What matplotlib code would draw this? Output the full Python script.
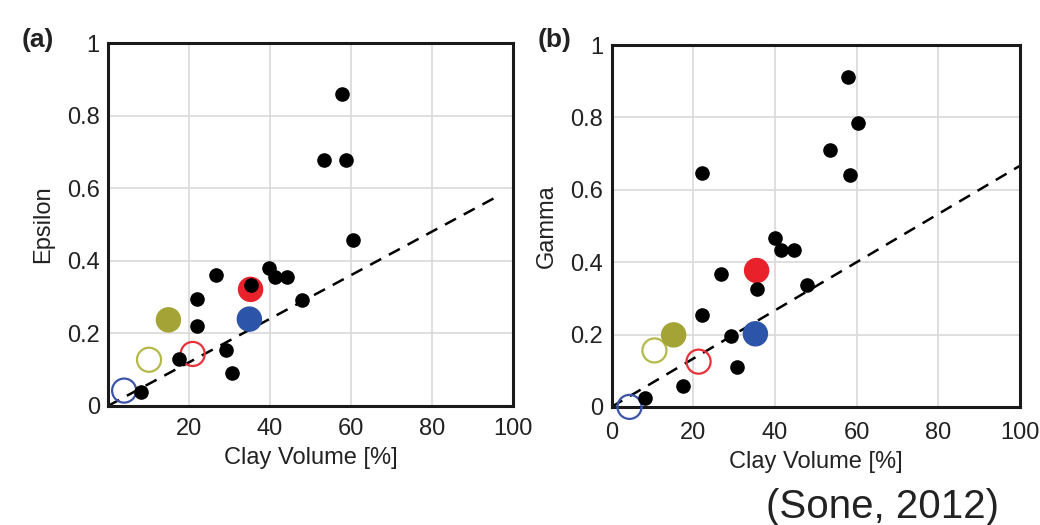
import matplotlib
matplotlib.use("Agg")
import matplotlib.pyplot as plt

plt.rcParams['font.family'] = ['Liberation Sans', 'DejaVu Sans']

######### DATA #########
# panel (a): black dots, clay volume [%] vs epsilon
eps_clay = [57.9, 53.4, 58.8, 60.6, 39.8, 41.2, 44.3, 26.6, 35.2, 21.9, 47.8, 21.9, 29.1, 30.7, 17.4, 8.1]
eps_val = [0.86, 0.678, 0.679, 0.457, 0.379, 0.354, 0.356, 0.360, 0.333, 0.294, 0.292, 0.221, 0.154, 0.090, 0.130, 0.038]
# panel (b): black dots, clay volume [%] vs gamma
gam_clay = [57.8, 60.4, 53.4, 58.3, 22.1, 40.0, 41.4, 44.6, 26.7, 35.5, 47.9, 22.1, 29.2, 30.8, 17.5, 8.3]
gam_val = [0.911, 0.784, 0.710, 0.641, 0.646, 0.466, 0.434, 0.434, 0.367, 0.326, 0.337, 0.254, 0.196, 0.109, 0.058, 0.024]

# highlighted samples: red, blue, olive (filled and open)
hl_colors = ['#e8212a', '#2c54a8', '#a3a435']
hl_open_colors = ['#e8323a', '#3d55a8', '#b5b84a']
eps_filled_clay = [35.2, 34.9, 14.9]
eps_filled_val = [0.321, 0.239, 0.237]
eps_open_clay = [20.9, 3.95, 10.1]
eps_open_val = [0.143, 0.042, 0.127]
gam_filled_clay = [35.5, 35.2, 15.2]
gam_filled_val = [0.377, 0.202, 0.199]
gam_open_clay = [21.3, 4.4, 10.5]
gam_open_val = [0.125, 0.0, 0.156]

# dashed trend lines (end points)
eps_trend_x = [0, 97]
eps_trend_y = [0, 0.582]
gam_trend_x = [0, 100]
gam_trend_y = [0, 0.667]


######### PLOTTING #########
def draw_panel(ax, clay, val, f_clay, f_val, o_clay, o_val, tx, ty, ylabel, xticks, xpad):
    ax.set_xlim(0, 100)
    ax.set_ylim(0, 1)
    ax.grid(True, color='#d9d9d9', linewidth=1.2)
    ax.set_axisbelow(True)
    ax.plot(tx, ty, color='black', linestyle=(0, (5, 3.5)), linewidth=1.8, zorder=2, clip_on=False)
    ax.scatter(o_clay, o_val, s=300, facecolors='none', edgecolors=hl_open_colors, linewidths=1.6, zorder=3, clip_on=False)
    ax.scatter(f_clay, f_val, s=300, color=hl_colors, zorder=3, clip_on=False)
    ax.scatter(clay, val, s=90, color='black', zorder=4, clip_on=False)
    ax.set_xticks(xticks)
    ax.set_xticklabels([str(t) for t in xticks])
    ax.set_yticks([0, 0.2, 0.4, 0.6, 0.8, 1])
    ax.set_yticklabels(['0', '0.2', '0.4', '0.6', '0.8', '1'])
    ax.tick_params(length=0, labelsize=17, colors='#222222')
    ax.tick_params(axis='x', pad=xpad)
    ax.tick_params(axis='y', pad=6)
    for sp in ax.spines.values():
        sp.set_linewidth(2.2)
        sp.set_color('#1a1a1a')
    ax.set_xlabel('Clay Volume [%]', fontsize=17, color='#222222', labelpad=5)
    ax.set_ylabel(ylabel, fontsize=17, color='#222222', labelpad=9)


fig = plt.figure(figsize=(10.4, 5.25), dpi=100)
ax1 = fig.add_axes([0.104, 0.227, 0.389, 0.691])
ax2 = fig.add_axes([0.588, 0.225, 0.393, 0.689])

draw_panel(ax1, eps_clay, eps_val, eps_filled_clay, eps_filled_val, eps_open_clay, eps_open_val,
           eps_trend_x, eps_trend_y, 'Epsilon', [20, 40, 60, 80, 100], 9)
draw_panel(ax2, gam_clay, gam_val, gam_filled_clay, gam_filled_val, gam_open_clay, gam_open_val,
           gam_trend_x, gam_trend_y, 'Gamma', [0, 20, 40, 60, 80, 100], 11)

fig.text(0.021, 0.91, '(a)', fontsize=19, fontweight='bold', color='#222222')
fig.text(0.517, 0.91, '(b)', fontsize=19, fontweight='bold', color='#222222')
fig.text(0.849, 0.014, '(Sone, 2012)', fontsize=29, color='#222222', ha='center')

fig.savefig('out.png', dpi=100)
